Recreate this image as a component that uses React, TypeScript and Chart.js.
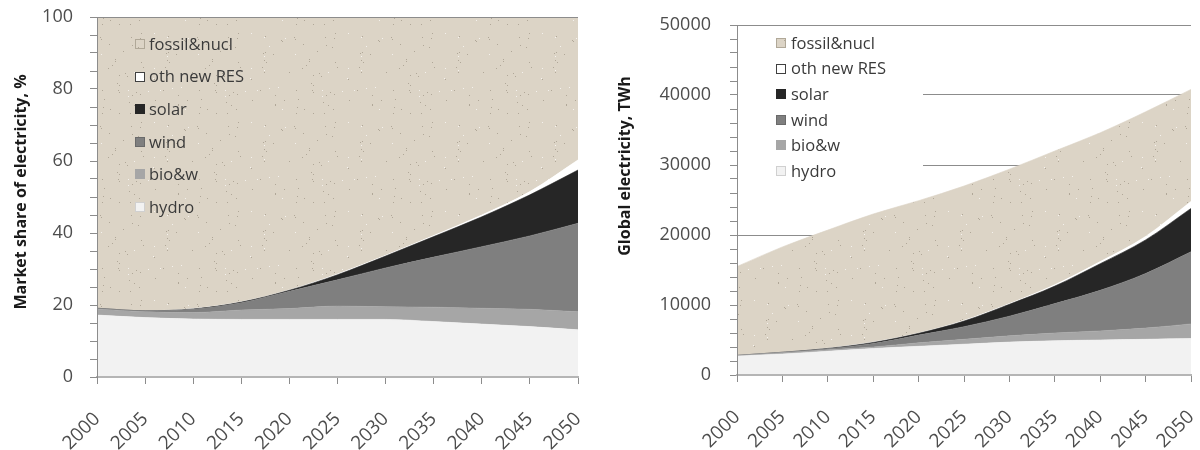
import React, { useEffect, useRef } from 'react';
import { Chart, registerables } from 'chart.js';

Chart.register(...registerables);

// ---------- data ----------
const YEARS = ['2000', '2005', '2010', '2015', '2020', '2025', '2030', '2035', '2040', '2045', '2050'];
const SERIES = ['hydro', 'bio&w', 'wind', 'solar', 'oth new RES', 'fossil&nucl'];

// market share of electricity, %
const SHARE_HYDRO = [17.2, 16.5, 16.1, 16.0, 16.0, 16.0, 16.0, 15.4, 14.7, 14.0, 13.1];
const SHARE_BIO = [1.7, 1.6, 1.8, 2.6, 3.0, 3.7, 3.5, 4.0, 4.4, 4.8, 5.0];
const SHARE_WIND = [0.2, 0.3, 0.9, 2.0, 4.8, 7.3, 10.8, 13.9, 17.1, 20.4, 24.6];
const SHARE_SOLAR = [0.0, 0.0, 0.1, 0.2, 0.3, 1.4, 3.3, 5.7, 8.3, 11.4, 14.8];
const SHARE_OTH = [0.0, 0.0, 0.1, 0.1, 0.1, 0.2, 0.2, 0.3, 0.5, 0.9, 2.8];
const SHARE_FOSSIL = [80.9, 81.6, 81.0, 79.1, 75.8, 71.4, 66.2, 60.7, 55.0, 48.5, 39.7];

// global electricity, TWh
const TWH_HYDRO = [2700, 3000, 3400, 3800, 4100, 4400, 4700, 4900, 5000, 5100, 5200];
const TWH_BIO = [100, 200, 200, 200, 500, 700, 900, 1100, 1300, 1600, 2100];
const TWH_WIND = [0, 50, 150, 500, 1100, 1800, 2800, 4200, 5800, 7800, 10300];
const TWH_SOLAR = [0, 0, 50, 150, 250, 800, 1700, 2500, 3800, 4800, 6200];
const TWH_OTH = [0, 0, 30, 50, 50, 100, 100, 200, 300, 500, 1000];
const TWH_FOSSIL = [12700, 15050, 16870, 18300, 18900, 19200, 19200, 19100, 18400, 17800, 16000];

const LEFT_TICKS_EVERY = 20;
const RIGHT_TICKS_EVERY = 10000;

// ---------- styles ----------
const FILL = ['#f2f2f2', '#a6a6a6', '#7f7f7f', '#262626', '#ffffff', '#dcd4c6'];
const MARKER_BORDER = ['#d0d0d0', '#a6a6a6', '#6a6a6a', '#262626', '#404040', '#b0a898'];
const FONT = '"Open Sans", "DejaVu Sans", sans-serif';
const AXIS_GREY = '#8c8c8c';
const LABEL_GREY = '#4d4d4d';

function makeSpeckle(base: string): CanvasPattern | string {
  const c = document.createElement('canvas');
  c.width = 97;
  c.height = 89;
  const g = c.getContext('2d');
  if (!g) return base;
  g.fillStyle = base;
  g.fillRect(0, 0, c.width, c.height);
  let s = 987654;
  const next = () => {
    s = (s * 1103515245 + 12345) & 0x7fffffff;
    return s / 0x7fffffff;
  };
  for (let i = 0; i < 70; i++) {
    const x = Math.floor(next() * c.width);
    const y = Math.floor(next() * c.height);
    const t = next();
    g.fillStyle = t < 0.75 ? 'rgba(140,130,115,0.55)' : 'rgba(255,255,255,0.7)';
    g.fillRect(x, y, 1, 1);
  }
  return g.createPattern(c, 'repeat') || base;
}

const insideLegend = {
  id: 'insideLegend',
  afterDatasetsDraw(chart: any, _args: any, opts: any) {
    if (!opts || !opts.show) return;
    const ctx: CanvasRenderingContext2D = chart.ctx;
    const area = chart.chartArea;
    ctx.save();
    if (opts.bg) {
      ctx.fillStyle = opts.bg;
      ctx.fillRect(area.left + 1, area.top + 3, opts.bg_w, opts.bg_h);
    }
    if (opts.topLine) {
      ctx.strokeStyle = AXIS_GREY;
      ctx.lineWidth = 1;
      ctx.beginPath();
      ctx.moveTo(area.left, Math.round(area.top) + 0.5);
      ctx.lineTo(area.right, Math.round(area.top) + 0.5);
      ctx.stroke();
    }
    const ds = chart.data.datasets;
    const n = ds.length;
    ctx.font = `16.5px ${FONT}`;
    ctx.textBaseline = 'middle';
    ctx.textAlign = 'left';
    for (let k = 0; k < n; k++) {
      const i = n - 1 - k;
      const y = opts.y0 + k * opts.dy;
      const sz = opts.size;
      ctx.fillStyle = ds[i].backgroundColor;
      ctx.fillRect(opts.boxX, Math.round(y - sz / 2), sz, sz);
      ctx.strokeStyle = MARKER_BORDER[i];
      ctx.lineWidth = 1;
      ctx.strokeRect(opts.boxX + 0.5, Math.round(y - sz / 2) + 0.5, sz - 1, sz - 1);
      ctx.fillStyle = '#3a3a3a';
      ctx.fillText(ds[i].label, opts.textX, y + 1);
    }
    ctx.restore();
  },
};

const yTitle = {
  id: 'yTitle',
  afterDraw(chart: any, _args: any, opts: any) {
    if (!opts || !opts.text) return;
    const ctx: CanvasRenderingContext2D = chart.ctx;
    ctx.save();
    ctx.translate(opts.x, opts.y);
    ctx.rotate(-Math.PI / 2);
    ctx.font = `bold 16px ${FONT}`;
    ctx.fillStyle = '#1a1a1a';
    ctx.textAlign = 'center';
    ctx.textBaseline = 'middle';
    ctx.fillText(opts.text, 0, 0);
    ctx.restore();
  },
};

function datasets(values: number[][], fossilFill: any) {
  return SERIES.map((name, i) => ({
    label: name,
    data: values[i],
    backgroundColor: i === 5 ? fossilFill : FILL[i],
    borderColor: FILL[i],
    borderWidth: 0.6,
    pointRadius: 0,
    pointHoverRadius: 0,
    fill: i === 0 ? 'origin' : '-1',
    cubicInterpolationMode: 'monotone' as const,
  }));
}

function makeConfig(opts: {
  values: number[][];
  fossilFill: any;
  max: number;
  step: number;
  labelEvery: number;
  yWidth: number;
  xHeight: number;
  padRight: number;
  padTop: number;
  title: any;
  tickPad: number;
  gridOnTop: boolean;
  legend: any;
}) {
  return {
    type: 'line' as const,
    data: { labels: YEARS, datasets: datasets(opts.values, opts.fossilFill) },
    plugins: [insideLegend, yTitle],
    options: {
      animation: false as const,
      responsive: false,
      events: [],
      layout: { padding: { left: 0, right: opts.padRight, top: opts.padTop, bottom: 0 } },
      plugins: {
        legend: { display: false },
        tooltip: { enabled: false },
        insideLegend: opts.legend,
        yTitle: opts.title,
      },
      scales: {
        x: {
          type: 'category' as const,
          offset: false,
          grid: {
            display: true,
            drawOnChartArea: false,
            drawTicks: true,
            tickLength: 7,
            tickColor: AXIS_GREY,
            tickWidth: 1,
          },
          border: { display: true, color: '#b5b5b5', width: 2, z: 1 },
          ticks: {
            autoSkip: false,
            maxRotation: 45,
            minRotation: 45,
            padding: 24,
            color: LABEL_GREY,
            font: { family: FONT, size: 19 },
          },
          afterFit: (s: any) => {
            s.height = opts.xHeight;
            s.paddingRight = 0;
            s.paddingLeft = 0;
          },
        },
        y: {
          stacked: true,
          min: 0,
          max: opts.max,
          grid: {
            z: opts.gridOnTop ? 1 : -1,
            drawTicks: true,
            tickLength: 7,
            tickColor: AXIS_GREY,
            tickWidth: 1,
            lineWidth: 1,
            color: (ctx: any) => {
              const v = ctx.tick ? ctx.tick.value : -1;
              if (opts.gridOnTop) return v === opts.max ? AXIS_GREY : 'rgba(0,0,0,0)';
              return v % opts.labelEvery === 0 ? AXIS_GREY : 'rgba(0,0,0,0)';
            },
          },
          border: { display: true, color: AXIS_GREY, width: 1, z: 1 },
          ticks: {
            stepSize: opts.step,
            autoSkip: false,
            padding: opts.tickPad,
            color: LABEL_GREY,
            font: { family: FONT, size: 18 },
            callback: (v: any) => (Number(v) % opts.labelEvery === 0 ? String(v) : ''),
          },
          title: { display: false },
          afterFit: (s: any) => {
            s.width = opts.yWidth;
            s.paddingTop = 0;
            s.paddingBottom = 0;
          },
        },
      },
    },
  };
}

export default function App() {
  const leftRef = useRef<HTMLCanvasElement>(null);
  const rightRef = useRef<HTMLCanvasElement>(null);

  useEffect(() => {
    if (!leftRef.current || !rightRef.current) return;
    const speckle = makeSpeckle(FILL[5]);

    const left = new Chart(
      leftRef.current,
      makeConfig({
        values: [SHARE_HYDRO, SHARE_BIO, SHARE_WIND, SHARE_SOLAR, SHARE_OTH, SHARE_FOSSIL],
        fossilFill: speckle,
        max: 100,
        step: 5,
        labelEvery: LEFT_TICKS_EVERY,
        yWidth: 97,
        xHeight: 73,
        padRight: 22,
        padTop: 17,
        title: { text: 'Market share of electricity, %', x: 21, y: 192 },
        tickPad: 17,
        gridOnTop: true,
        legend: { show: true, boxX: 135, textX: 149, y0: 44, dy: 32.6, size: 10 },
      }) as any
    );

    const right = new Chart(
      rightRef.current,
      makeConfig({
        values: [TWH_HYDRO, TWH_BIO, TWH_WIND, TWH_SOLAR, TWH_OTH, TWH_FOSSIL],
        fossilFill: speckle,
        max: 50000,
        step: 2000,
        labelEvery: RIGHT_TICKS_EVERY,
        yWidth: 137,
        xHeight: 75,
        padRight: 9,
        padTop: 25,
        title: { text: 'Global electricity, TWh', x: 25, y: 166 },
        tickPad: 19,
        gridOnTop: false,
        legend: {
          show: true,
          boxX: 176,
          textX: 191,
          y0: 43,
          dy: 25.6,
          size: 10,
          bg: '#ffffff',
          bg_w: 185,
          bg_h: 162,
          topLine: true,
        },
      }) as any
    );

    return () => {
      left.destroy();
      right.destroy();
    };
  }, []);

  return (
    <div style={{ position: 'absolute', left: 0, top: 0, width: 1200, height: 450, background: '#ffffff' }}>
      <canvas ref={leftRef} width={600} height={450} style={{ position: 'absolute', left: 0, top: 0 }} />
      <canvas ref={rightRef} width={600} height={450} style={{ position: 'absolute', left: 600, top: 0 }} />
    </div>
  );
}
